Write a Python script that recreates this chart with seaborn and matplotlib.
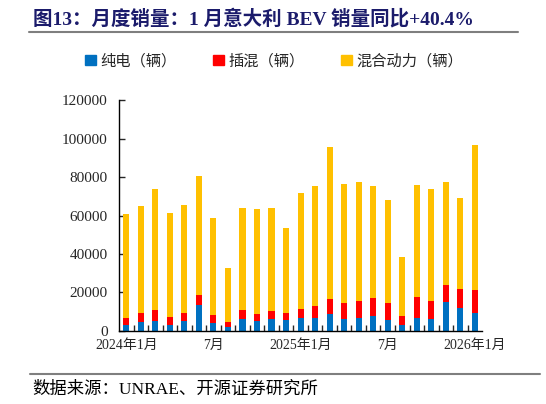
import numpy as np
import pandas as pd
import matplotlib.pyplot as plt
import seaborn as sns
from matplotlib.patches import Patch
from matplotlib.lines import Line2D

# 月度数据（辆）
months = ["2024-01", "2024-02", "2024-03", "2024-04", "2024-05", "2024-06",
          "2024-07", "2024-08", "2024-09", "2024-10", "2024-11", "2024-12",
          "2025-01", "2025-02", "2025-03", "2025-04", "2025-05", "2025-06",
          "2025-07", "2025-08", "2025-09", "2025-10", "2025-11", "2025-12",
          "2026-01"]
bev = [2900, 4800, 5200, 3100, 5000, 13300, 4000, 2250, 6200, 5000, 6200, 5700,
       6550, 6600, 9000, 6400, 6900, 7600, 5500, 2900, 6900, 6100, 15100, 11800,
       9200]
phev = [3850, 4550, 5400, 4200, 4350, 5400, 4500, 2450, 4400, 4000, 4200, 3650,
        4850, 6200, 7800, 8000, 8900, 9500, 9000, 4900, 10900, 9700, 8800, 10000,
        12300]
hev = [53850, 55750, 63200, 53800, 55950, 61800, 50200, 28000, 53500, 54400,
       53700, 43950, 60500, 62400, 79000, 62000, 61400, 58200, 53600, 30800,
       57900, 58100, 53800, 47300, 75100]
tick_labels = {"2024-01": "2024年1月", "2024-07": "7月", "2025-01": "2025年1月",
               "2025-07": "7月", "2026-01": "2026年1月"}

df = pd.DataFrame({"month": months, "bev": bev, "phev": phev, "hev": hev})
df["lvl2"] = df["bev"] + df["phev"]
df["lvl3"] = df["lvl2"] + df["hev"]

sns.set_style("ticks")
plt.rcParams["font.family"] = ["Liberation Serif", "Noto Sans CJK SC"]

c_bev, c_phev, c_hev = "#0070C0", "#FF0000", "#FFC000"

fig = plt.figure(figsize=(5.46, 4.04), dpi=100)
ax = fig.add_axes([0.218, 0.181, 0.665, 0.571])

# 叠加绘制：总量 -> 纯电+插混 -> 纯电
sns.barplot(data=df, x="month", y="lvl3", color=c_hev, width=0.42,
            linewidth=0, saturation=1, ax=ax)
sns.barplot(data=df, x="month", y="lvl2", color=c_phev, width=0.42,
            linewidth=0, saturation=1, ax=ax)
sns.barplot(data=df, x="month", y="bev", color=c_bev, width=0.42,
            linewidth=0, saturation=1, ax=ax)

ax.set_xlim(-0.5, len(months) - 0.5)
ax.set_ylim(0, 120000)
ax.set_yticks(np.arange(0, 120001, 20000))
ax.set_xticks(range(len(months)))
ax.set_xticklabels([tick_labels.get(m, "") for m in months])
ax.set_xticks(np.arange(0.5, len(months) - 0.5, 1), minor=True)
ax.tick_params(axis="x", which="major", length=0, labelsize=10, pad=6)
ax.tick_params(axis="x", which="minor", direction="in", length=4, width=1)
ax.tick_params(axis="y", direction="in", length=4, width=1, labelsize=11, pad=8)
ax.set_xlabel("")
ax.set_ylabel("")
sns.despine(ax=ax)
for s in ["left", "bottom"]:
    ax.spines[s].set_linewidth(1)
    ax.spines[s].set_color("black")

handles = [Patch(color=c_bev, label="纯电（辆）"),
           Patch(color=c_phev, label="插混（辆）"),
           Patch(color=c_hev, label="混合动力（辆）")]
fig.legend(handles=handles, loc="center", bbox_to_anchor=(0.502, 0.849), ncol=3,
           frameon=False, fontsize=11, handlelength=0.7, handleheight=0.7,
           handletextpad=0.3, columnspacing=2.4)

fig.text(0.06, 0.955, "图13：月度销量：1 月意大利 BEV 销量同比+40.4%",
         fontsize=14, fontweight="bold", color="#1B1B6B", va="center")
fig.add_artist(Line2D([0.053, 0.949], [0.922, 0.922], color="#7F7F7F", lw=1.5))
fig.add_artist(Line2D([0.055, 0.989], [0.074, 0.074], color="#7F7F7F", lw=1.5))
fig.text(0.06, 0.035, "数据来源：UNRAE、开源证券研究所", fontsize=12.5,
         color="black", va="center")

fig.savefig("out.png", dpi=100)
